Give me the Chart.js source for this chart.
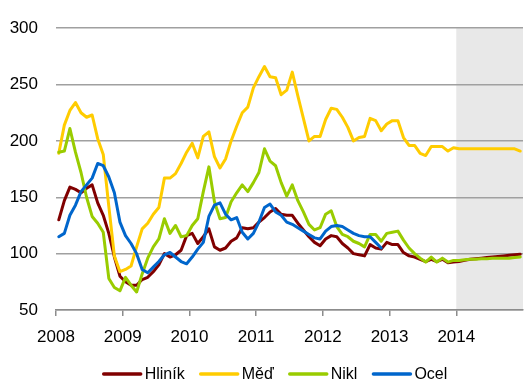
<!DOCTYPE html>
<html>
<head>
<meta charset="utf-8">
<script src="https://cdn.jsdelivr.net/npm/chart.js@4/dist/chart.umd.min.js"></script>
<style>
    body { margin: 0; background: #fff; }
    #box { width: 524px; height: 383px; }
</style>
</head>
<body>
<div id="box"><canvas id="js--chart--1" width="524" height="383"></canvas></div>
<script>
// monthly index values, Jan 2008 - Dec 2014
const years = [2008, 2009, 2010, 2011, 2012, 2013, 2014];
const forecastFrom = 2014;

const hlinik = [
    130, 147, 159, 157, 154, 158, 161, 145, 134, 118, 97, 80,
    75, 72, 72, 77, 79, 84, 90, 100, 97, 99, 103, 116,
    118, 109, 115, 122, 106, 103, 105, 111, 114, 123, 122, 123,
    128, 132, 137, 140, 135, 134, 134, 127, 121, 115, 110, 107,
    113, 116, 115, 109, 105, 100, 99, 98, 108, 105, 104, 110,
    108, 108, 101, 98, 97, 95, 93, 95, 93, 95, 92, 92.5,
    93, 94, 95, 95.5, 96, 96.5, 97, 97.5, 98, 98.5, 99, 99.5
];

const med = [
    189, 214, 227, 234, 225, 221, 223, 202, 188, 142, 98, 84,
    86, 89, 106, 122, 127, 135, 141, 167, 167, 171, 180, 190,
    198, 185, 204, 208, 186, 176, 184, 200, 213, 225, 230, 247,
    257, 266, 257, 256, 241, 245, 261, 240, 220, 200, 204, 204,
    219, 229, 228, 221, 212, 200, 203, 204, 220, 218, 209, 215,
    218, 218, 203, 196, 196, 189, 187, 195, 195, 195, 191, 194,
    193, 193, 193, 193, 193, 193, 193, 193, 193, 193, 193, 191
];

const nikl = [
    190, 191, 211, 190, 172, 150, 133, 127, 119, 78, 70, 67,
    79, 72, 66, 82, 96, 106, 113, 131, 118, 125, 115, 116,
    125, 131, 155, 177, 146, 131, 132, 146, 154, 161, 155, 163,
    172, 193, 182, 178, 163, 151, 161, 147, 137, 126, 121, 123,
    135, 138, 124, 117, 115, 111, 109, 106, 117, 117, 111, 118,
    119, 120, 112, 105, 100, 96, 92.5, 97, 92.5, 96, 92.5, 94,
    94, 94.5, 95, 95, 95.5, 95.5, 96, 96, 96, 96, 96.5, 97
];

const ocel = [
    115, 118, 134, 143, 155, 161, 167, 180, 178, 168, 154, 128,
    116, 109, 100, 86, 83, 88, 93, 99, 101, 97, 93, 91,
    97, 104, 110, 133, 143, 145, 135, 130, 132, 119, 113, 118,
    128, 141, 144, 137, 134, 128, 126, 123, 120, 117, 114, 113,
    120, 124, 125, 124, 121, 118, 116, 115, 115, 110, 105
];

// each value sits in the middle of its month
function points(values) {
    return values.map(function(v, i) { return { x: i + 0.5, y: v }; });
}

function line(label, values, color, order) {
    return {
        label: label,
        data: points(values),
        borderColor: color,
        backgroundColor: color,
        borderWidth: 3,
        pointRadius: 0,
        tension: 0,
        borderJoinStyle: "round",
        borderCapStyle: "round",
        order: order
    };
}

const data = {
    datasets: [
        line("Hliník", hlinik, "#800000", 4),
        line("Měď", med, "#ffcc00", 3),
        line("Nikl", nikl, "#99cc00", 2),
        line("Ocel", ocel, "#0066cc", 1)
    ]
};

// grey band behind the forecast part
const shade = {
    id: "shade",
    beforeDraw(chart) {
        const ctx = chart.ctx, area = chart.chartArea;
        const x0 = chart.scales.x.getPixelForValue((forecastFrom - years[0]) * 12);
        ctx.save();
        ctx.fillStyle = "#e8e8e8";
        ctx.fillRect(x0, area.top, area.right - x0, area.bottom - area.top);
        ctx.restore();
    }
};

// legend drawn as short lines with names, centred under the plot
const legendLines = {
    id: "legendLines",
    afterDraw(chart) {
        const ctx = chart.ctx;
        const sample = 39, gap = 3, space = 15, y = 374;
        ctx.save();
        ctx.font = "16px 'Liberation Sans', Arial, sans-serif";
        ctx.textBaseline = "middle";
        const sets = chart.data.datasets;
        let total = 0;
        sets.forEach(function(ds, i) {
            total += sample + gap + ctx.measureText(ds.label).width + (i ? space : 0);
        });
        let x = 275 - total / 2;
        sets.forEach(function(ds) {
            ctx.strokeStyle = ds.borderColor;
            ctx.lineWidth = 3.5;
            ctx.lineCap = "round";
            ctx.beginPath();
            ctx.moveTo(x + 1, y);
            ctx.lineTo(x + sample - 1, y);
            ctx.stroke();
            x += sample + gap;
            ctx.fillStyle = "#000";
            ctx.fillText(ds.label, x, y + 1);
            x += ctx.measureText(ds.label).width + space;
        });
        ctx.restore();
    }
};

const config = {
    type: "line",
    data: data,
    options: {
        responsive: false,
        animation: false,
        // the top tick label adds about 11px on its own
        layout: { padding: { top: 11, right: 1, left: 0, bottom: 0 } },
        plugins: {
            legend: { display: false },
            tooltip: { enabled: false }
        },
        scales: {
            x: {
                type: "linear",
                min: 0,
                max: 84,
                afterBuildTicks: function(scale) {
                    scale.ticks = years.map(function(y) { return { value: (y - years[0]) * 12 }; });
                },
                afterFit: function(scale) { scale.height = 73; },
                grid: { drawOnChartArea: false, drawTicks: true, tickLength: 6, color: "#8c8c8c", lineWidth: 1.5 },
                border: { display: true, color: "#8c8c8c", width: 1.5 },
                ticks: {
                    autoSkip: false,
                    maxRotation: 0,
                    padding: 11,
                    color: "#000",
                    font: { family: "'Liberation Sans', Arial, sans-serif", size: 17 },
                    callback: function(v) { return years[0] + v / 12; }
                }
            },
            y: {
                min: 50,
                max: 300,
                afterFit: function(scale) { scale.width = 56; },
                grid: { color: "#a0a0a0", lineWidth: 1.5, drawTicks: false },
                border: { display: false },
                ticks: {
                    stepSize: 50,
                    padding: 18,
                    color: "#000",
                    font: { family: "'Liberation Sans', Arial, sans-serif", size: 17 }
                }
            }
        }
    },
    plugins: [shade, legendLines]
};

const chart1 = new Chart(document.getElementById("js--chart--1"), config);
</script>
</body>
</html>
